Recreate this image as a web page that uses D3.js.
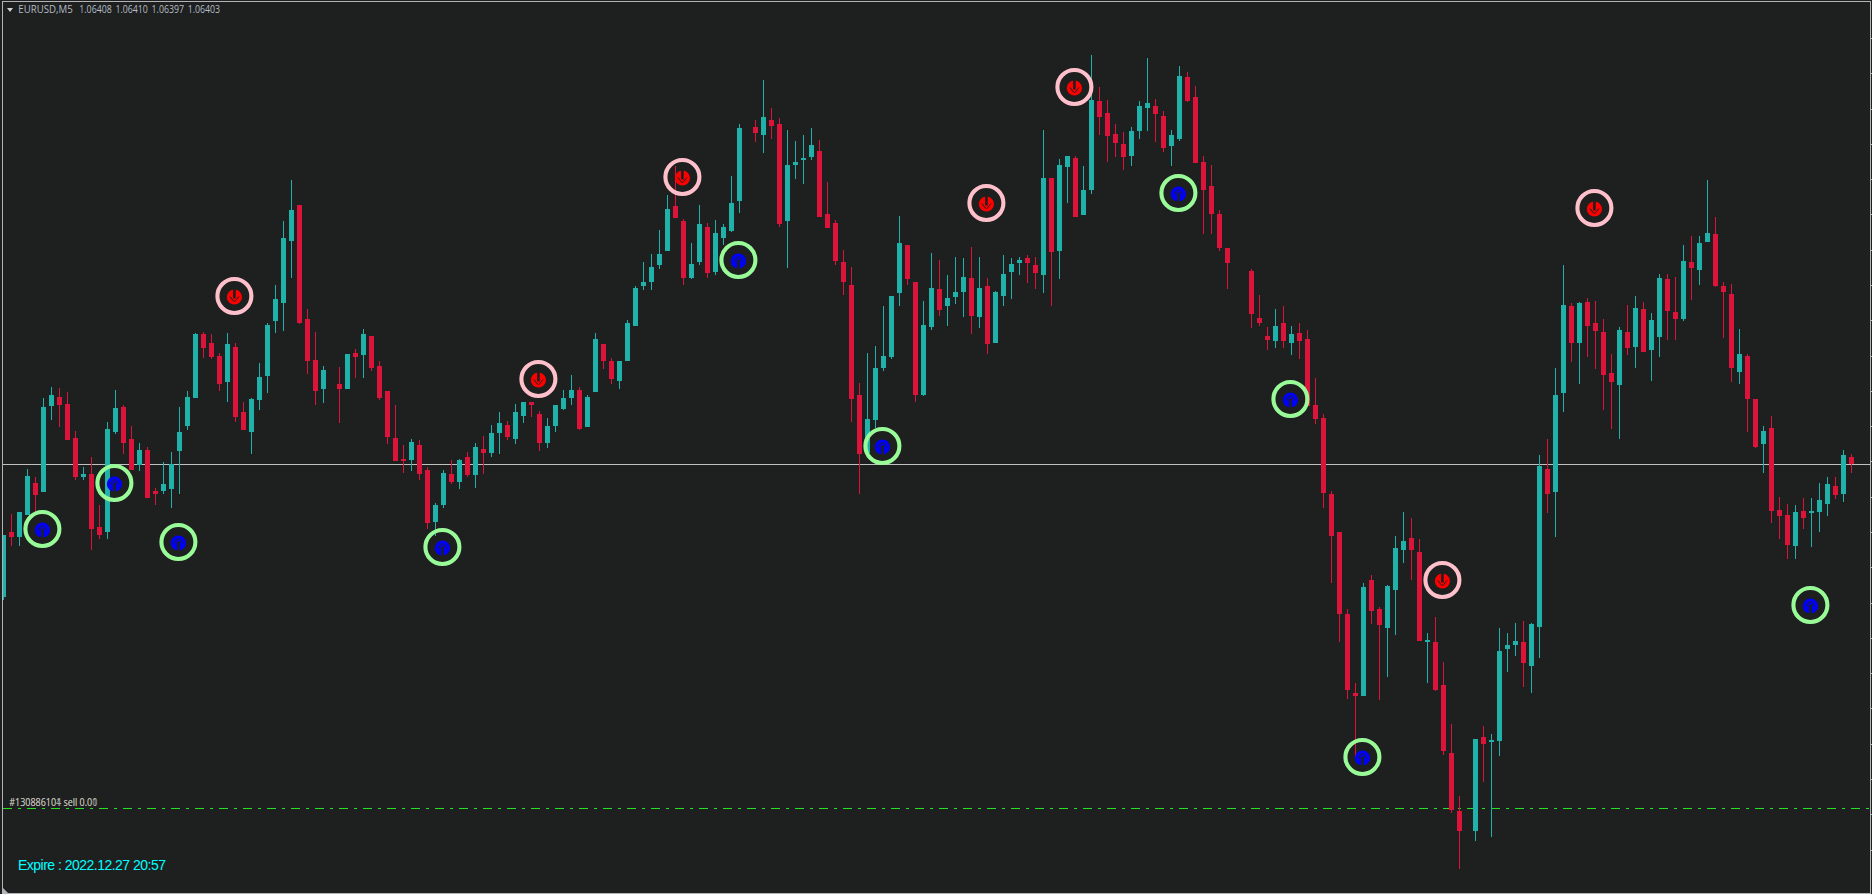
<!DOCTYPE html>
<html><head><meta charset="utf-8">
<style>html,body{margin:0;padding:0;background:#1e1f1f;overflow:hidden}svg{display:block}</style>
<script src="https://cdnjs.cloudflare.com/ajax/libs/d3/7.8.5/d3.min.js"></script>
</head><body><svg id="c" width="1872" height="894"></svg>
<script>
// All prices are in points (0.00001) above 1.05000; null = no visible bar in that slot.
const BASE = 1.05;
const symbol = "EURUSD,M5";
const lastQuote = ["1.06408","1.06410","1.06397","1.06403"];
const expireText = "Expire : 2022.12.27 20:57";
const orderLabels = ["#130886104 sell 0.00","#130886101 sell 0.01"];
const bidPts = 1403;
const orderPts = 1162.2;
const opens = [1309.9,1355.4,1351.9,1367.3,1389.7,1383.4,1443.6,1449.9,1445.0,1421.2,
1393.9,1396.0,1358.9,1355.4,1425.4,1442.9,1420.5,1402.3,1412.8,1384.1,
1384.1,1385.5,1412.1,1429.6,1449.2,1494.0,1487.7,1478.6,1460.4,1484.9,
1439.4,1425.4,1447.8,1464.6,1503.1,1515.7,1559.1,1584.3,1504.5,1475.8,
1455.5,null,1459.0,1455.5,1480.7,1479.3,1492.6,1471.6,1454.1,1421.2,
1406.5,1405.8,1416.3,1398.8,1362.4,1374.3,1396.0,1390.4,1407.9,1395.3,
1413.5,1410.7,1424.7,1430.3,1420.5,1436.6,1446.4,1438.0,1417.7,1429.6,
1441.5,1449.2,1454.8,1428.9,1453.4,1487.0,1475.1,1461.1,1475.1,1499.6,
1527.6,1530.4,1542.3,1552.1,1583.6,1573.1,1533.2,1544.4,1568.9,1537.4,
1561.2,1566.1,1587.1,null,1638.9,1633.3,1643.8,1641.0,1573.1,1612.3,
1615.8,1617.9,1622.1,1578.0,1571.7,1544.4,1528.3,1451.3,1410.7,1433.8,
1470.2,1477.9,1522.7,1556.3,1530.4,1451.3,1498.9,1525.5,1513.6,1519.9,
1523.4,1533.2,1505.9,1527.6,1487.7,1520.6,1537.4,1543.7,1547.2,1542.3,
1535.3,1603.2,1552.1,1610.9,1617.2,1577.3,1594.8,1657.1,1648.7,1634.0,
1627.0,1618.6,1636.1,1652.2,1653.6,1646.6,1625.6,1630.5,1673.9,1659.9,
1614.4,1597.6,1578.0,1554.2,null,null,1538.1,1505.2,1492.6,1489.1,
1501.7,1487.7,1494.7,1490.5,1444.3,1435.2,1382.0,1355.4,1298.0,1242.7,
1240.6,1321.8,1301.5,1288.2,1314.8,1342.8,1351.2,1341.4,1278.4,1278.4,
1248.3,1200.7,1160.1,null,1146.1,1211.9,1208.4,1209.1,1273.5,1276.3,
1278.4,1261.6,1288.9,1399.5,1383.4,1452.7,1513.6,1487.7,1516.4,1501.7,
1495.4,1466.7,1458.3,1495.4,1484.9,1511.5,1482.8,1491.9,1532.5,1509.4,
1504.5,1544.4,1538.8,1558.4,1564.0,1527.6,1522.0,1467.4,1478.6,1448.5,
1417.0,1428.2,1370.8,1367.3,1345.6,1370.1,1368.7,1369.4,1375.0,1387.6,
1382.0,1408];
const highs = [1353.3,1368.0,1369.4,1399.5,1393.9,1449.2,1456.9,1456.2,1453.4,1426.1,
1400.9,1407.9,1374.3,1432.4,1454.8,1444.3,1429.6,1417.7,1414.9,1386.2,
1404.4,1411.4,1442.9,1454.1,1494.7,1495.4,1494.0,1480.7,1494.7,1487.7,
1446.4,1449.2,1473.7,1501.7,1528.3,1573.1,1601.8,1584.3,1511.5,1495.4,
1471.6,null,1470.9,1480.0,1483.5,1497.5,1492.6,1475.1,1454.1,1444.3,
1416.3,1420.5,1419.8,1400.9,1375.7,1398.8,1405.8,1406.5,1411.4,1417.7,
1422.6,1430.3,1439.4,1433.1,1445.0,1446.4,1446.4,1440.1,1435.2,1444.3,
1454.8,1465.3,1456.9,1451.3,1494.7,1487.0,1477.2,1475.1,1503.8,1527.6,
1544.4,1550.0,1566.8,1591.3,1611.6,1574.5,1557.7,1584.3,1571.7,1573.8,
1571.0,1604.6,1641.0,null,1643.8,1671.8,1652.2,1645.2,1636.8,1629.1,
1633.3,1638.2,1629.8,1600.4,1573.8,1552.8,1540.9,1459.7,1480.7,1485.6,
1513.6,1520.6,1576.6,1556.3,1530.4,1517.1,1550.7,1545.8,1535.3,1547.9,
1547.2,1554.9,1547.9,1533.2,1524.1,1549.3,1547.2,1547.9,1549.3,1547.9,
1636.8,1603.2,1616.5,1618.6,1618.6,1611.6,1689.3,1666.9,1657.8,1641.0,
1635.4,1638.9,1657.1,1687.2,1658.5,1650.1,1636.8,1681.6,1677.4,1667.6,
1618.6,1612.3,1580.8,1554.2,null,null,1539.5,1521.3,1498.9,1511.5,
1513.6,1499.6,1501.7,1496.8,1463.2,1438.0,1384.1,1355.4,1301.5,1249.7,
1319.7,1325.3,1302.9,1318.3,1352.6,1369.4,1365.2,1350.5,1284.7,1295.9,
1264.4,1221.0,1170.6,null,1210.5,1219.6,1214.0,1288.2,1284.7,1291.7,
1293.1,1291.7,1409.3,1420.5,1470.2,1542.3,1515.7,1516.4,1519.2,1517.1,
1504.5,1480.0,1498.9,1514.3,1520.6,1516.4,1508.7,1536.0,1536.0,1533.9,
1556.3,1562.6,1562.6,1601.8,1575.9,1530.4,1529.0,1497.5,1480.0,1448.5,
1429.6,1436.6,1379.9,1375.0,1374.3,1379.2,1379.2,1389.7,1393.9,1393.9,
1412.8,1410];
const lows = [1307.8,1345.6,1345.6,1367.3,1369.4,1383.4,1433.8,1428.9,1419.8,1391.8,
1391.8,1342.8,1350.5,1350.5,1424.0,1410.0,1398.8,1398.1,1379.2,1374.3,
1382.0,1372.2,1382.0,1426.8,1449.2,1477.2,1476.5,1454.1,1446.4,1432.4,
1426.8,1410.0,1440.8,1452.7,1494.7,1496.1,1533.2,1501.0,1466.0,1444.3,
1445.7,null,1431.7,1455.5,1463.2,1463.2,1468.1,1447.8,1417.0,1405.1,
1396.7,1398.1,1391.8,1357.5,1352.6,1372.2,1389.0,1385.5,1393.9,1386.2,
1396.0,1407.9,1410.0,1419.8,1417.0,1431.7,1435.9,1412.1,1414.2,1425.4,
1440.8,1444.3,1426.8,1428.9,1453.4,1469.5,1459.0,1455.5,1475.1,1499.6,
1524.8,1524.8,1539.5,1552.1,1575.2,1528.3,1532.5,1542.3,1533.2,1535.3,
1556.3,1565.4,1578.7,null,1628.4,1620.7,1630.5,1568.9,1540.2,1602.5,
1599.0,1615.8,1575.9,1568.2,1542.3,1521.3,1432.4,1382.0,1410.7,1428.2,
1468.1,1476.5,1513.6,1528.3,1446.4,1450.6,1496.8,1506.6,1499.6,1515.0,
1505.9,1494.0,1498.2,1480.0,1487.7,1513.6,1518.5,1535.3,1529.7,1525.5,
1522.7,1513.6,1532.5,1585.7,1575.9,1577.3,1592.0,1633.3,1614.4,1617.9,
1608.8,1611.6,1630.5,1636.1,1628.4,1621.4,1611.6,1629.1,1656.4,1613.7,
1564.0,1564.0,1552.1,1525.5,null,null,1498.2,1499.6,1482.8,1484.2,
1484.2,1479.3,1476.5,1443.6,1431.0,1372.2,1319.7,1278.4,1238.5,1197.9,
1240.6,1291.0,1237.8,1253.9,1283.3,1333.7,1321.8,1279.1,1249.7,1244.1,
1199.3,1158.7,1119.5,null,1139.1,1180.4,1141.9,1198.6,1257.4,1268.6,
1246.9,1242.7,1267.2,1368.7,1351.9,1439.4,1474.4,1459.0,1477.9,1469.5,
1440.8,1427.5,1420.5,1479.3,1470.2,1481.4,1461.1,1477.9,1489.8,1489.8,
1503.1,1517.8,1528.3,1558.4,1526.9,1491.2,1460.4,1459.0,1425.4,1414.2,
1396.7,1361.7,1350.5,1336.5,1336.5,1357.5,1344.9,1355.4,1366.6,1378.5,
1376.4,1397];
const closes = [1353.3,1351.9,1369.4,1394.6,1381.3,1442.9,1451.3,1444.3,1419.8,1393.9,
1396.0,1357.5,1353.3,1427.5,1442.2,1417.7,1398.8,1412.8,1379.2,1382.0,
1389.0,1403.0,1425.4,1449.9,1494.0,1484.2,1477.9,1459.0,1487.0,1435.9,
1426.8,1448.5,1463.9,1500.3,1518.5,1561.2,1580.8,1501.7,1475.1,1454.1,
1468.8,null,1455.5,1480.0,1477.9,1494.0,1470.2,1449.2,1421.9,1405.1,
1405.1,1418.4,1396.0,1361.7,1374.3,1396.7,1390.4,1405.8,1395.3,1414.9,
1410.7,1424.7,1431.7,1421.9,1439.4,1446.4,1444.3,1417.7,1429.6,1444.3,
1449.2,1454.8,1427.5,1449.9,1490.5,1475.1,1462.5,1475.1,1501.7,1526.2,
1530.4,1540.9,1550.0,1581.5,1575.2,1533.2,1543.0,1571.0,1536.7,1564.7,
1568.9,1585.7,1638.2,null,1634.7,1645.9,1639.6,1571.0,1612.3,1614.4,
1617.2,1626.3,1575.9,1568.2,1545.1,1530.4,1448.5,1410.0,1434.5,1470.2,
1478.6,1520.6,1557.7,1532.5,1451.3,1500.3,1526.2,1510.8,1519.2,1523.4,
1533.9,1506.6,1526.2,1487.0,1523.4,1536.0,1543.0,1545.8,1543.7,1536.7,
1603.2,1551.4,1612.3,1618.6,1575.9,1594.8,1657.8,1645.9,1632.6,1627.7,
1617.9,1636.1,1653.6,1655.7,1648.0,1624.2,1633.3,1674.6,1657.1,1613.7,
1594.8,1578.0,1554.2,1543.7,null,null,1508.0,1501.7,1489.8,1499.6,
1489.1,1494.0,1489.1,1443.6,1434.5,1382.7,1352.6,1298.0,1244.8,1240.6,
1316.9,1300.1,1290.3,1317.6,1344.2,1349.1,1342.8,1279.1,1279.8,1244.8,
1202.1,1160.8,1146.1,null,1210.5,1207.0,1209.8,1272.1,1276.3,1279.1,
1263.7,1291.0,1401.6,1382.0,1451.3,1514.3,1487.7,1515.7,1499.6,1496.1,
1465.3,1460.4,1496.8,1484.2,1512.2,1481.4,1503.8,1533.2,1510.1,1504.5,
1545.1,1540.2,1557.7,1564.7,1527.6,1523.4,1470.2,1480.0,1448.5,1414.9,
1426.1,1370.1,1366.6,1346.3,1369.4,1365.2,1370.1,1377.8,1389.0,1381.3,
1409.3,1403];
const buyBars = [5,14,22,55,92,110,147,161,170,226];
const buyPts  = [1357.5,1389.7,1348.4,1344.9,1545.8,1415.6,1592.7,1448.5,1197.9,1304.3];
const sellBars = [29,67,85,123,134,180,199];
const sellPts  = [1520.6,1462.5,1603.9,1585.7,1666.9,1321.8,1582.2];
const gridStartPts = 1701.2, gridStepPts = 24.7, gridCount = 24;

const price = p => BASE + p / 1e5;
const W = 1872, H = 894, LEFT = 3, RIGHT = 1870, TOP = 2, BOTTOM = 893;
const BG = "#1e1f1f", UP = "#20b2aa", DOWN = "#dc143c", FRAME = "#b4b4b8";

const x = d3.scaleLinear().domain([0, opens.length - 1]).range([3.5, 1851.5]);
const y = d3.scaleLinear().domain([price(1727.8), price(1727.8 - 0.7 * H)]).range([0, H]);
const Y = p => Math.round(y(price(p)));

const svg = d3.select("#c");
svg.append("rect").attr("width", W).attr("height", H).attr("fill", BG);
svg.append("defs").append("clipPath").attr("id", "plot").append("rect")
  .attr("x", LEFT).attr("y", TOP).attr("width", RIGHT - LEFT).attr("height", BOTTOM - TOP);

// price lines sit behind the candles
const lines = svg.append("g").attr("clip-path", "url(#plot)").attr("shape-rendering", "crispEdges");
lines.append("line").attr("x1", LEFT).attr("x2", RIGHT).attr("y1", Y(bidPts) + .5).attr("y2", Y(bidPts) + .5)
  .attr("stroke", "#c0c0c0");
lines.append("line").attr("x1", LEFT).attr("x2", RIGHT).attr("y1", Y(orderPts) + .5).attr("y2", Y(orderPts) + .5)
  .attr("stroke", "#28e028").attr("stroke-dasharray", "9,6,3,6");

// candles
const bars = d3.range(opens.length).filter(i => opens[i] !== null);
const candles = svg.append("g").attr("clip-path", "url(#plot)").attr("shape-rendering", "crispEdges");
const col = i => closes[i] >= opens[i] ? UP : DOWN;
candles.selectAll("rect.w").data(bars).join("rect").attr("class", "w")
  .attr("x", i => x(i) - .5).attr("width", 1)
  .attr("y", i => Y(highs[i])).attr("height", i => Math.max(1, Y(lows[i]) - Y(highs[i])))
  .attr("fill", col);
candles.selectAll("rect.b").data(bars).join("rect").attr("class", "b")
  .attr("x", i => x(i) - 2.5).attr("width", 5)
  .attr("y", i => Y(Math.max(opens[i], closes[i])))
  .attr("height", i => Math.max(1, Y(Math.min(opens[i], closes[i])) - Y(Math.max(opens[i], closes[i]))))
  .attr("fill", col);

// signals: ring, disc, arrow cut out of the disc
function signal(barsArr, ptsArr, ring, disc, dir) {
  const g = svg.append("g").selectAll("g").data(barsArr).join("g")
    .attr("transform", (b, k) => `translate(${x(b) - 1.1},${Y(ptsArr[k])})`);
  g.append("circle").attr("r", 17).attr("fill", "none").attr("stroke", ring).attr("stroke-width", 4.1);
  const a = g.append("g").attr("transform", `translate(0,1) scale(1,${dir})`);
  a.append("circle").attr("r", 7.6).attr("fill", disc);
  a.append("path").attr("fill", "none").attr("stroke", BG).attr("stroke-width", 1)
    .attr("d", "M-4.6,0.6 L-1,-4 Q0,-5 1,-4 L4.6,0.6");
  a.append("rect").attr("x", -1.3).attr("width", 2.6).attr("y", -1.5).attr("height", 10).attr("fill", BG);
}
signal(buyBars, buyPts, "#98fb98", "#0000ff", 1);
signal(sellBars, sellPts, "#ffc0cb", "#ff0000", -1);

// frame and right-hand ticks
const frame = svg.append("g").attr("shape-rendering", "crispEdges").attr("fill", FRAME);
frame.append("rect").attr("x", 2).attr("y", 1).attr("width", 1869).attr("height", 1);
frame.append("rect").attr("x", 2).attr("y", 1).attr("width", 1).attr("height", 893);
frame.append("rect").attr("x", 1870).attr("y", 1).attr("width", 1).attr("height", 893);
frame.append("rect").attr("x", 2).attr("y", 893).attr("width", 1869).attr("height", 1);
svg.append("path").attr("d", "M3,888 L8,893 L3,893 Z").attr("fill", FRAME);

const gridVals = d3.range(gridCount).map(k => price(gridStartPts - gridStepPts * k));
const axis = d3.axisRight(y).tickValues(gridVals).tickSize(1).tickFormat("");
const ag = svg.append("g").attr("transform", "translate(1871,0)").attr("shape-rendering", "crispEdges").call(axis);
ag.select(".domain").remove();
ag.selectAll("line").attr("stroke", FRAME);

// texts
const uiFont = "'Open Sans','DejaVu Sans',sans-serif";
svg.append("path").attr("d", "M7,8 L13,8 L10,12 Z").attr("fill", "#d0d0d0");
const hdr = svg.append("g").attr("font-family", uiFont).attr("font-size", 10.7).attr("fill", "#b4bcc4");
hdr.append("text").attr("x", 18.3).attr("y", 12.5).attr("textLength", 54.4)
  .attr("lengthAdjust", "spacingAndGlyphs").text(symbol);
const quoteX = d3.scaleLinear().domain([0, 3]).range([79.3, 187.7]);
hdr.selectAll("text.q").data(lastQuote).join("text").attr("class", "q")
  .attr("x", (d, k) => quoteX(k)).attr("y", 12.5).attr("textLength", 32.4)
  .attr("lengthAdjust", "spacingAndGlyphs").text(d => d);
svg.append("g").selectAll("text").data(orderLabels).join("text")
  .attr("x", 9.3).attr("y", 806)
  .attr("font-family", uiFont).attr("font-size", 10.7)
  .attr("fill", "#c4c4bc").attr("fill-opacity", .85)
  .attr("textLength", 88).attr("lengthAdjust", "spacingAndGlyphs").text(d => d);
svg.append("text").attr("x", 18).attr("y", 869.5)
  .attr("font-family", "'Liberation Sans',Arial,sans-serif").attr("font-size", 14).attr("fill", "#00ffff")
  .attr("textLength", 148).attr("lengthAdjust", "spacing").text(expireText);
</script></body></html>
